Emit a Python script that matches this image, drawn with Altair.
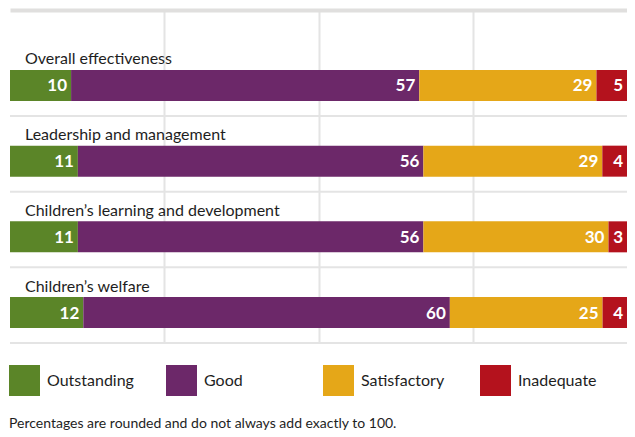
import altair as alt
import pandas as pd

rows = ["Overall effectiveness", "Leadership and management",
        "Children\u2019s learning and development", "Children\u2019s welfare"]
ratings = ["Outstanding", "Good", "Satisfactory", "Inadequate"]
outstanding = [10, 11, 11, 12]
good = [57, 56, 56, 60]
satisfactory = [29, 29, 30, 25]
inadequate = [5, 4, 3, 4]
colors = ["#5b8528", "#6c2869", "#e5a718", "#b4121d"]
note = "Percentages are rounded and do not always add exactly to 100."

recs = []
for i, r in enumerate(rows):
    for j, (name, vals) in enumerate(zip(ratings, [outstanding, good, satisfactory, inadequate])):
        recs.append({"row": r, "rating": name, "order": j, "value": vals[i]})
df = pd.DataFrame(recs)
df_rows = pd.DataFrame({"row": rows})

FONT = "Lato"
TXT = "#1e1e1e"
GRID = "#e4e4e4"

yscale = alt.Scale(domain=rows, paddingInner=0.5903, paddingOuter=0.4955, align=0.8)
Y = alt.Y("row:N", sort=rows, scale=yscale, axis=None)

stacked = alt.Chart(df).transform_stack(
    stack="value", as_=["v0", "v1"], groupby=["row"], offset="normalize",
    sort=[alt.SortField("order", order="ascending")]
)

xaxis = alt.Axis(orient="top", values=[0.25, 0.5, 0.75], labels=False, ticks=False,
                 title=None, domain=True, domainColor="#e0dfde", domainWidth=4,
                 grid=True, gridColor=GRID, gridWidth=2)

bars = stacked.mark_bar().encode(
    x=alt.X("v0:Q", scale=alt.Scale(domain=[0, 1], nice=False, zero=True), axis=xaxis),
    x2="v1:Q",
    y=Y,
    color=alt.Color("rating:N", scale=alt.Scale(domain=ratings, range=colors),
                    legend=alt.Legend(orient="none", legendX=-1, legendY=355,
                                      direction="horizontal", columns=4, title=None,
                                      symbolType="square", symbolSize=961,
                                      symbolStrokeWidth=0, symbolOpacity=1,
                                      labelFontSize=16, labelFont=FONT, labelColor=TXT,
                                      labelOffset=7, columnPadding=32, gridAlign="all",
                                      padding=0)),
    order=alt.Order("order:Q"),
)

values = stacked.mark_text(align="right", baseline="middle", dx=-4, dy=1, color="white",
                           font=FONT, fontWeight="bold", fontSize=17).encode(
    x=alt.X("v1:Q"),
    y=Y,
    text=alt.Text("value:Q"),
)

seps = alt.Chart(df_rows).mark_rule(yOffset=30.5, color=GRID, strokeWidth=2).encode(y=Y)

labels = alt.Chart(df_rows).mark_text(align="left", baseline="alphabetic", dx=15, dy=-21,
                                      font=FONT, fontSize=16, color=TXT).encode(
    x=alt.datum(0),
    y=Y,
    text="row:N",
)

chart = alt.layer(seps, bars, values, labels).properties(
    width=617, height=333,
    autosize=alt.AutoSizeParams(type="none"),
    padding={"left": 2, "top": 2, "right": 0, "bottom": 88},
    title=alt.TitleParams(text=note, orient="bottom", anchor="start", frame="group",
                          offset=21, fontSize=14, font=FONT, fontWeight="normal",
                          color=TXT, baseline="top", dx=-1),
).configure_view(stroke=None)

chart.save("out.html", embed_options={"renderer": "svg", "actions": False})
